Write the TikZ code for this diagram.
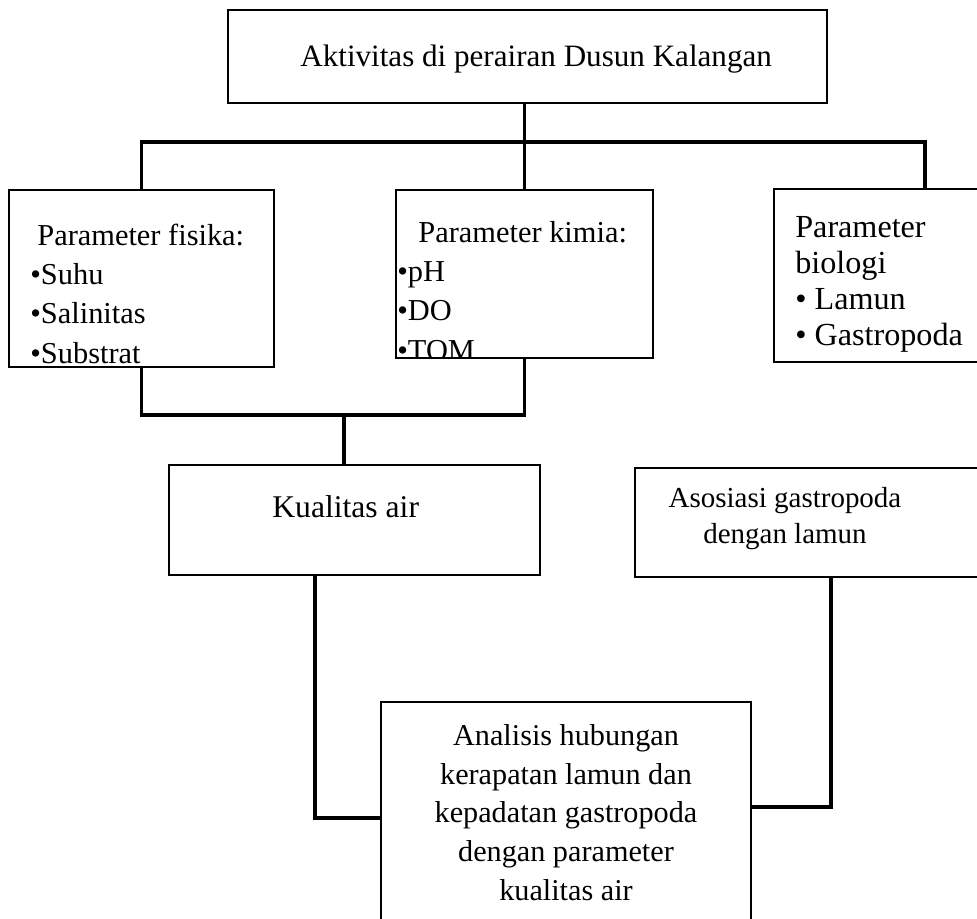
\documentclass[tikz,border=0pt]{standalone}
\usepackage{fontspec}
\setmainfont{Liberation Serif}
\usetikzlibrary{positioning}
\tikzset{
  box/.style={draw, line width=1.1pt, inner sep=0pt},
  txt/.style={font=\fontsize{17.3}{22.2}\selectfont, inner sep=0pt, align=left},
  ctxt/.style={font=\fontsize{17.2}{22}\selectfont, inner sep=0pt, align=center},
  link/.style={line width=2.2pt},
}

\begin{document}
\begin{tikzpicture}[x=0.02cm, y=-0.02cm]
\useasboundingbox (0,0) rectangle (977,919);
\node[box, minimum width=11.98cm, minimum height=1.86cm] (akt) at (527.5,56.5) {};
\node[box, minimum width=5.3cm, minimum height=3.54cm] (fisika) at (141.5,278.5) {};
\node[box, minimum width=5.14cm, minimum height=3.36cm] (kimia) at (524.5,274) {};
\node[box, minimum width=4.32cm, minimum height=3.46cm] (biologi) at (882,275.5) {};
\node[box, minimum width=7.42cm, minimum height=2.2cm] (kualitas) at (354.5,520) {};
\node[box, minimum width=7.1cm, minimum height=2.18cm] (asosiasi) at (812.5,522.5) {};
\node[box, minimum width=7.4cm, minimum height=5.16cm] (analisis) at (566,831) {};
\node[txt, anchor=base west, font=\fontsize{17.7}{22}\selectfont] (aktT) at (300,67) {Aktivitas di perairan Dusun Kalangan};
\node[txt, anchor=base west] (fisikaT) at (30,363) {\hspace{4pt}Parameter fisika:\\•Suhu\\•Salinitas\\•Substrat};
\begin{scope}
\clip (kimia.south west) rectangle (kimia.north east);
\node[txt, anchor=base west] (kimiaT) at (397,360) {\hspace{12pt}Parameter kimia:\\•pH\\•DO\\•TOM};
\end{scope}
\node[txt, anchor=base west, font=\fontsize{18.3}{20.4}\selectfont] (biologiT) at (795,345) {Parameter\\biologi\\• Lamun\\• Gastropoda};
\node[txt, anchor=base west, font=\fontsize{18}{22}\selectfont] (kualitasT) at (272,517) {Kualitas air};
\node[ctxt, anchor=base, font=\fontsize{16.5}{20.4}\selectfont] (asosiasiT) at (785,543) {Asosiasi gastropoda\\dengan lamun};
\node[ctxt, anchor=base] (analisisT) at (566,900) {Analisis hubungan\\kerapatan lamun dan\\kepadatan gastropoda\\dengan parameter\\kualitas air};
\coordinate (jT) at (524.5,142);
\coordinate (jB) at (344,415);
\coordinate (bioIn) at (925,189);
\draw[link] (akt.south -| kimia.north) -- (kimia.north);
\draw[link] (fisika.north) |- (jT) -| (bioIn);
\draw[link] (fisika.south) |- (jB) -| (kimia.south);
\draw[link] (jB) -- (kualitas.north -| jB);
\draw[link] ([xshift=-7.9mm]kualitas.south) |- ([yshift=2.6mm]analisis.west);
\draw[link] ([xshift=3.7mm]asosiasi.south) |- ([yshift=4.8mm]analisis.east);
\end{tikzpicture}
\end{document}
